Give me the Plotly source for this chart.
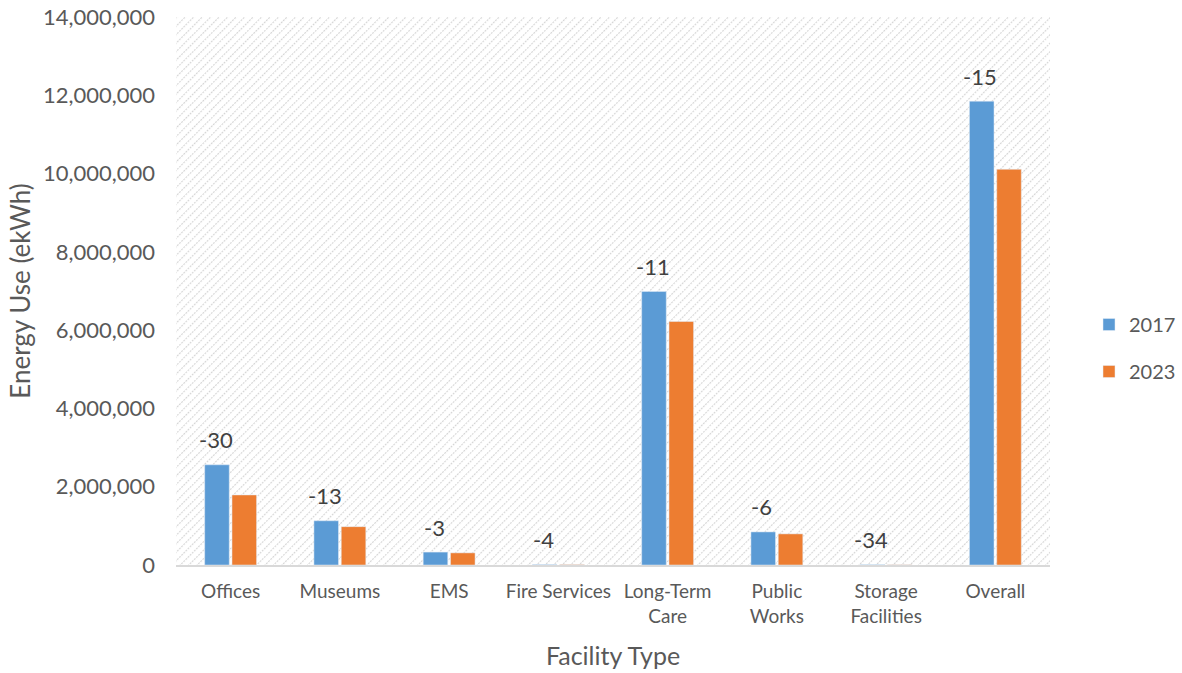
import base64
import plotly.graph_objects as go

categories = ["Offices", "Museums", "EMS", "Fire Services", "Long-Term<br>Care",
              "Public<br>Works", "Storage<br>Facilities", "Overall"]
use_2017 = [2560000, 1130000, 330000, 12000, 6990000, 845000, 9000, 11850000]
use_2023 = [1790000, 980000, 310000, 11500, 6220000, 795000, 6000, 10110000]
pct_change = ["-30", "-13", "-3", "-4", "-11", "-6", "-34", "-15"]
y_ticks = [0, 2000000, 4000000, 6000000, 8000000, 10000000, 12000000, 14000000]

FONT = "Lato"
GREY = "#595959"

L, R, T, B = 176, 132, 17, 108
W, H = 1182, 673
pw, ph = W - L - R, H - T - B

svg = f'''<svg xmlns="http://www.w3.org/2000/svg" width="{pw}" height="{ph}">
<defs><pattern id="p" width="6" height="6" patternUnits="userSpaceOnUse" patternTransform="rotate(45)">
<rect width="6" height="6" fill="white"/><line x1="0" y1="0" x2="0" y2="6" stroke="#d6d6d6" stroke-width="2.2" stroke-dasharray="2,1"/></pattern></defs>
<rect width="{pw}" height="{ph}" fill="url(#p)"/></svg>'''
src = "data:image/svg+xml;base64," + base64.b64encode(svg.encode()).decode()

fig = go.Figure()
fig.add_bar(x=categories, y=use_2017, name="2017", marker_color="#5b9bd5", legendgroup="a")
fig.add_bar(x=categories, y=use_2023, name="2023", marker_color="#ed7d31", legendgroup="b")

for c, v, p in zip(categories, use_2017, pct_change):
    fig.add_annotation(x=c, y=v, text=p, showarrow=False, xref="x", yref="y",
                       xshift=-15, yshift=25, yanchor="middle",
                       font=dict(family=FONT, size=22, color="#404040"))

fig.add_layout_image(source=src, xref="paper", yref="paper", x=0, y=1, sizex=1, sizey=1,
                     xanchor="left", yanchor="top", sizing="stretch", layer="below")

fig.update_layout(
    width=W, height=H,
    margin=dict(l=L, r=R, t=T, b=B, autoexpand=False),
    paper_bgcolor="white", plot_bgcolor="rgba(0,0,0,0)",
    barmode="group", bargap=0.5, bargroupgap=0.1,
    font=dict(family=FONT, color=GREY, size=19),
    legend=dict(xref="container", yref="container", x=1089 / W, y=1 - 348 / H,
                xanchor="left", yanchor="middle",
                font=dict(size=20, color=GREY), traceorder="grouped", tracegroupgap=18,
                itemwidth=30),
    xaxis=dict(title=dict(text="Facility Type", font=dict(size=25, color=GREY), standoff=22),
               showline=True, linecolor="#d9d9d9", linewidth=2, ticks="",
               ticklabelstandoff=8, automargin=False,
               tickfont=dict(size=19, color=GREY)),
    yaxis=dict(title=dict(text="Energy Use (ekWh)", font=dict(size=26, color=GREY), standoff=4),
               range=[0, 14000000], tickvals=y_ticks, tickformat=",", showgrid=False,
               zeroline=False, showline=False, ticks="", ticklabelstandoff=20,
               automargin=False, tickfont=dict(size=22, color=GREY)),
)

fig.write_html("out.html", config={"displayModeBar": False},
               post_script="document.body.style.margin='0';document.body.style.overflow='hidden';")
